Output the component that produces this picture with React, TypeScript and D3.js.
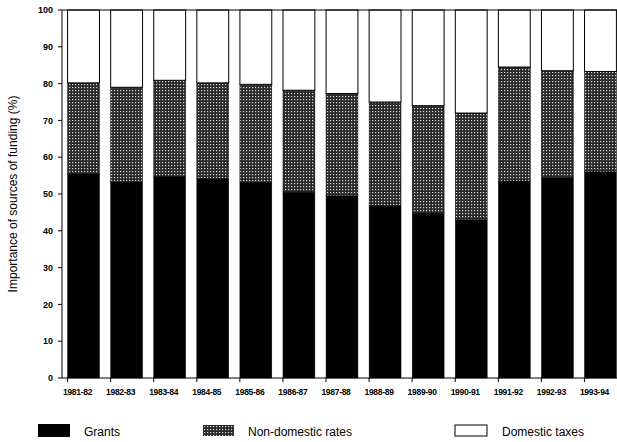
import * as d3 from 'd3';

const years = ['1981-82', '1982-83', '1983-84', '1984-85', '1985-86', '1986-87', '1987-88', '1988-89', '1989-90', '1990-91', '1991-92', '1992-93', '1993-94'];
const grants = [55.5, 53.3, 54.8, 54.2, 53.2, 50.5, 49.5, 46.8, 44.8, 43, 53.5, 54.5, 56];
const nonDomestic = [24.7, 25.7, 26.1, 26, 26.6, 27.7, 27.8, 28.2, 29.2, 29, 31, 29, 27.3];
const domestic = grants.map((g, i) => 100 - g - nonDomestic[i]);
const yTicks = [0, 10, 20, 30, 40, 50, 60, 70, 80, 90, 100];

const W = 617, H = 442;
const left = 62, right = 622, top = 10, bottom = 378;

export default function App() {
  const x = d3.scaleBand<string>().domain(years).range([left, right]).paddingInner(0.26).paddingOuter(0.13);
  const y = d3.scaleLinear().domain([0, 100]).range([bottom, top]);
  const stack = d3.stack<number>().keys(['g', 'n', 'd']).value((i, k) =>
    k === 'g' ? grants[i] : k === 'n' ? nonDomestic[i] : domestic[i]);
  const series = stack(years.map((_, i) => i));
  const fills = ['#000', 'url(#dots)', '#fff'];
  const font = '"Liberation Sans", Arial, sans-serif';

  return (
    <svg width={W} height={H} style={{ position: 'absolute', left: 0, top: 0, background: '#fff' }} fontFamily={font}>
      <defs>
        <pattern id="dots" width="3" height="3" patternUnits="userSpaceOnUse">
          <rect width="3" height="3" fill="#2a2a2a" />
          <rect x="0" y="0" width="1.2" height="1.2" fill="#d8d8d8" />
        </pattern>
      </defs>
      {series.map((s, si) => s.map((d, i) => (
        <rect key={`${si}-${i}`} x={x(years[i])} y={y(d[1])} width={x.bandwidth()} height={y(d[0]) - y(d[1])}
          fill={fills[si]} stroke="#000" strokeWidth={si === 2 ? 1 : 0.5} />
      )))}
      <line x1={left} x2={left} y1={top} y2={bottom} stroke="#000" />
      <line x1={left} x2={W} y1={bottom} y2={bottom} stroke="#000" />
      <line x1={left} x2={W} y1={top} y2={top} stroke="#000" />
      {yTicks.map(t => (
        <g key={t}>
          <line x1={left - 4} x2={left} y1={y(t)} y2={y(t)} stroke="#000" />
          <text x={left - 9} y={y(t)} dy="0.35em" textAnchor="end" fontSize={9} fontWeight="bold">{t}</text>
        </g>
      ))}
      {years.map(yr => (
        <g key={yr}>
          <line x1={x(yr)! + x.bandwidth() / 2 - 16} x2={x(yr)! + x.bandwidth() / 2 - 16} y1={bottom} y2={bottom + 4} stroke="#000" />
          <text x={x(yr)! + x.bandwidth() / 2 - 6} y={395} textAnchor="middle" fontSize={8.5} fontWeight="bold" letterSpacing={-0.3}>{yr}</text>
        </g>
      ))}
      <text transform={`translate(17,${(top + bottom) / 2}) rotate(-90)`} textAnchor="middle" fontSize={12}>Importance of sources of funding (%)</text>
      <rect x={38} y={424} width={32} height={13} fill="#000" />
      <text x={84} y={436} fontSize={12}>Grants</text>
      <rect x={203} y={425} width={31} height={11} fill="url(#dots)" />
      <text x={248} y={436} fontSize={12}>Non-domestic rates</text>
      <rect x={455} y={425} width={32} height={11} fill="#fff" stroke="#000" />
      <text x={502} y={436} fontSize={12}>Domestic taxes</text>
    </svg>
  );
}
